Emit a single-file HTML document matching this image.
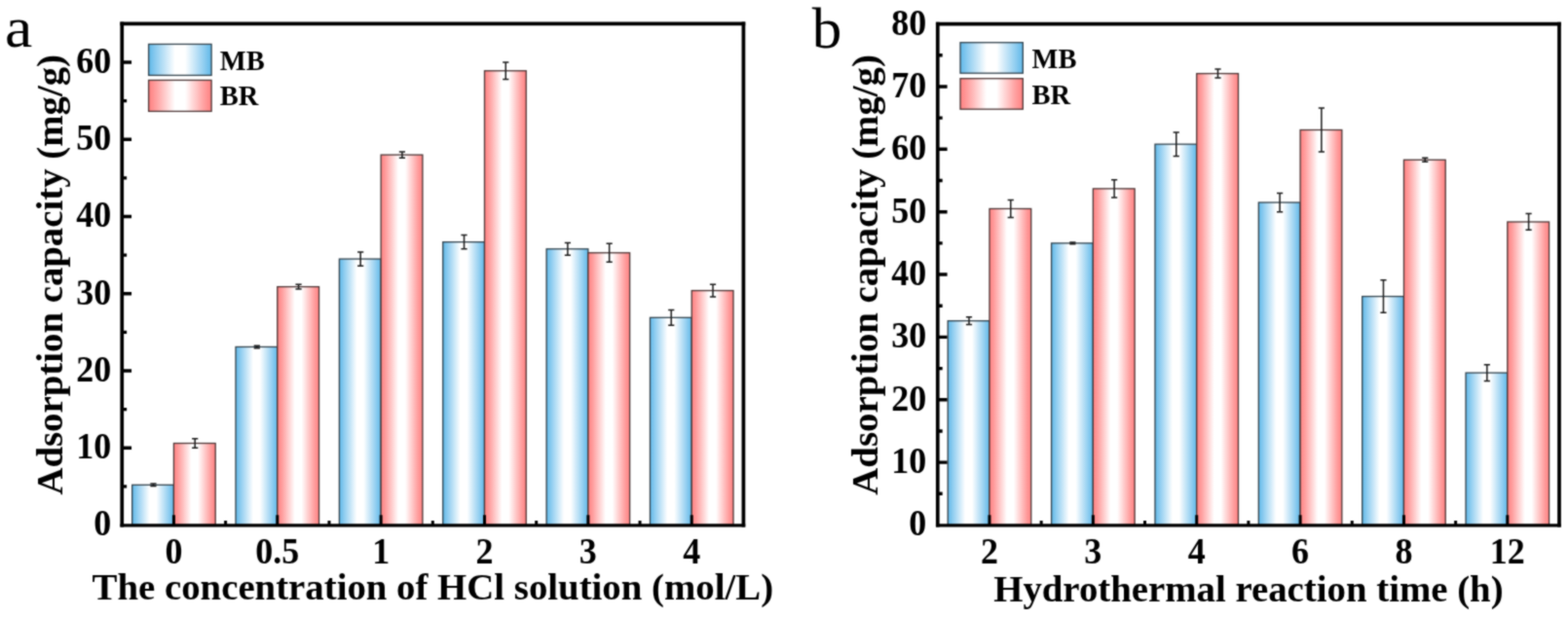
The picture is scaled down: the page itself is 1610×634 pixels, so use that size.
<!DOCTYPE html>
<html lang="en"><head><meta charset="utf-8"><title>Adsorption capacity</title>
<style>
html,body{margin:0;padding:0;background:#fff;}
body{width:1610px;height:634px;overflow:hidden;}
svg{display:block;}
text{font-family:"Liberation Serif", "Times New Roman", serif;fill:#000;}
.t{font-weight:bold;font-size:36.0px;}
.a{font-weight:bold;font-size:38.8px;}
.l{font-weight:bold;font-size:28.5px;}
.p{font-weight:normal;}
</style></head>
<body>
<svg width="1610" height="634" viewBox="0 0 1610 634">
<defs>
<linearGradient id="gb" x1="0" y1="0" x2="1" y2="0">
<stop offset="0" stop-color="#5fb8e8"/><stop offset="0.12" stop-color="#8fcdf0"/><stop offset="0.42" stop-color="#ffffff"/><stop offset="0.58" stop-color="#ffffff"/><stop offset="0.88" stop-color="#8fcdf0"/><stop offset="1" stop-color="#5fb8e8"/>
</linearGradient>
<linearGradient id="gr" x1="0" y1="0" x2="1" y2="0">
<stop offset="0" stop-color="#ff8080"/><stop offset="0.12" stop-color="#ffa0a0"/><stop offset="0.42" stop-color="#ffffff"/><stop offset="0.58" stop-color="#ffffff"/><stop offset="0.88" stop-color="#ffa0a0"/><stop offset="1" stop-color="#ff8080"/>
</linearGradient>
<filter id="soft" x="0" y="0" width="1610" height="634" filterUnits="userSpaceOnUse" color-interpolation-filters="sRGB">
<feConvolveMatrix order="3" kernelMatrix="1 2 1 2 8 2 1 2 1" edgeMode="duplicate" preserveAlpha="true"/>
</filter>
</defs>
<g filter="url(#soft)">
<rect width="1610" height="634" fill="#fff"/>
<rect x="135.67" y="498.29" width="42.76" height="41.21" fill="url(#gb)" stroke="#34444e" stroke-width="1.3"/>
<rect x="178.43" y="455.50" width="42.76" height="84.00" fill="url(#gr)" stroke="#4e3838" stroke-width="1.3"/>
<rect x="242.03" y="356.44" width="42.76" height="183.06" fill="url(#gb)" stroke="#34444e" stroke-width="1.3"/>
<rect x="284.79" y="294.63" width="42.76" height="244.87" fill="url(#gr)" stroke="#4e3838" stroke-width="1.3"/>
<rect x="348.39" y="266.10" width="42.76" height="273.40" fill="url(#gb)" stroke="#34444e" stroke-width="1.3"/>
<rect x="391.15" y="159.12" width="42.76" height="380.38" fill="url(#gr)" stroke="#4e3838" stroke-width="1.3"/>
<rect x="454.75" y="248.67" width="42.76" height="290.83" fill="url(#gb)" stroke="#34444e" stroke-width="1.3"/>
<rect x="497.50" y="72.74" width="42.76" height="466.76" fill="url(#gr)" stroke="#4e3838" stroke-width="1.3"/>
<rect x="561.11" y="255.80" width="42.76" height="283.70" fill="url(#gb)" stroke="#34444e" stroke-width="1.3"/>
<rect x="603.86" y="259.76" width="42.76" height="279.74" fill="url(#gr)" stroke="#4e3838" stroke-width="1.3"/>
<rect x="667.46" y="326.33" width="42.76" height="213.17" fill="url(#gb)" stroke="#34444e" stroke-width="1.3"/>
<rect x="710.22" y="298.59" width="42.76" height="240.91" fill="url(#gr)" stroke="#4e3838" stroke-width="1.3"/>
<path d="M157.45 497.10V499.48M154.35 497.10H160.55M154.35 499.48H160.55" stroke="#1c1c1c" stroke-width="1.5" fill="none"/>
<path d="M200.21 450.74V460.25M197.11 450.74H203.31M197.11 460.25H203.31" stroke="#1c1c1c" stroke-width="1.5" fill="none"/>
<path d="M263.81 355.25V357.63M260.71 355.25H266.91M260.71 357.63H266.91" stroke="#1c1c1c" stroke-width="1.5" fill="none"/>
<path d="M306.57 292.25V297.01M303.47 292.25H309.67M303.47 297.01H309.67" stroke="#1c1c1c" stroke-width="1.5" fill="none"/>
<path d="M370.17 258.97V273.23M367.07 258.97H373.27M367.07 273.23H373.27" stroke="#1c1c1c" stroke-width="1.5" fill="none"/>
<path d="M412.92 155.95V162.29M409.82 155.95H416.02M409.82 162.29H416.02" stroke="#1c1c1c" stroke-width="1.5" fill="none"/>
<path d="M476.53 241.53V255.80M473.43 241.53H479.63M473.43 255.80H479.63" stroke="#1c1c1c" stroke-width="1.5" fill="none"/>
<path d="M519.28 64.02V81.46M516.18 64.02H522.38M516.18 81.46H522.38" stroke="#1c1c1c" stroke-width="1.5" fill="none"/>
<path d="M582.88 249.46V262.14M579.78 249.46H585.98M579.78 262.14H585.98" stroke="#1c1c1c" stroke-width="1.5" fill="none"/>
<path d="M625.64 250.25V269.27M622.54 250.25H628.74M622.54 269.27H628.74" stroke="#1c1c1c" stroke-width="1.5" fill="none"/>
<path d="M689.24 318.40V334.25M686.14 318.40H692.34M686.14 334.25H692.34" stroke="#1c1c1c" stroke-width="1.5" fill="none"/>
<path d="M732.00 292.25V304.93M728.90 292.25H735.10M728.90 304.93H735.10" stroke="#1c1c1c" stroke-width="1.5" fill="none"/>
<path d="M125.25 499.88h4.9M125.25 460.25h9.8M125.25 420.63h4.9M125.25 381.01h9.8M125.25 341.38h4.9M125.25 301.76h9.8M125.25 262.14h4.9M125.25 222.52h9.8M125.25 182.89h4.9M125.25 143.27h9.8M125.25 103.65h4.9M125.25 64.02h9.8" stroke="#000" stroke-width="3.4" fill="none"/>
<path d="M178.43 539.50v-10.3M231.61 539.50v-4.5M284.79 539.50v-10.3M337.97 539.50v-4.5M391.15 539.50v-10.3M444.32 539.50v-4.5M497.50 539.50v-10.3M550.68 539.50v-4.5M603.86 539.50v-10.3M657.04 539.50v-4.5M710.22 539.50v-10.3" stroke="#000" stroke-width="3.0" fill="none"/>
<path d="M123.40 24.40H765.25" stroke="#000" stroke-width="3.8" fill="none"/>
<path d="M763.40 22.50V541.50" stroke="#000" stroke-width="3.7" fill="none"/>
<path d="M123.40 539.90H765.25" stroke="#000" stroke-width="3.2" fill="none"/>
<path d="M125.25 22.50V541.50" stroke="#000" stroke-width="3.7" fill="none"/>
<text transform="translate(114.35 550.40) scale(1 1.035)" text-anchor="end" class="t">0</text>
<text transform="translate(114.35 471.15) scale(1 1.035)" text-anchor="end" class="t">10</text>
<text transform="translate(114.35 391.91) scale(1 1.035)" text-anchor="end" class="t">20</text>
<text transform="translate(114.35 312.66) scale(1 1.035)" text-anchor="end" class="t">30</text>
<text transform="translate(114.35 233.42) scale(1 1.035)" text-anchor="end" class="t">40</text>
<text transform="translate(114.35 154.17) scale(1 1.035)" text-anchor="end" class="t">50</text>
<text transform="translate(114.35 74.92) scale(1 1.035)" text-anchor="end" class="t">60</text>
<text transform="translate(178.43 579.1) scale(1 1.035)" text-anchor="middle" class="t">0</text>
<text transform="translate(284.79 579.1) scale(1 1.035)" text-anchor="middle" class="t">0.5</text>
<text transform="translate(391.15 579.1) scale(1 1.035)" text-anchor="middle" class="t">1</text>
<text transform="translate(497.50 579.1) scale(1 1.035)" text-anchor="middle" class="t">2</text>
<text transform="translate(603.86 579.1) scale(1 1.035)" text-anchor="middle" class="t">3</text>
<text transform="translate(710.22 579.1) scale(1 1.035)" text-anchor="middle" class="t">4</text>
<text x="444.3" y="616.0" text-anchor="middle" class="a" textLength="699.5" lengthAdjust="spacing">The concentration of HCl solution (mol/L)</text>
<text transform="translate(64 282.3) rotate(-90)" text-anchor="middle" class="a" textLength="452.6" lengthAdjust="spacing">Adsorption capacity (mg/g)</text>
<rect x="152.6" y="45.4" width="64.5" height="32" fill="url(#gb)" stroke="#34444e" stroke-width="1.3"/>
<text transform="translate(225.8 71.5) scale(1 1.06)" class="l">MB</text>
<rect x="152.6" y="82.4" width="64.5" height="32" fill="url(#gr)" stroke="#4e3838" stroke-width="1.3"/>
<text transform="translate(225.8 108.3) scale(1 1.06)" class="l">BR</text>
<text transform="translate(4.9 48.2) scale(1.07 1)" class="p" style="font-size:59.5px">a</text>
<rect x="973.22" y="329.68" width="42.76" height="209.82" fill="url(#gb)" stroke="#34444e" stroke-width="1.3"/>
<rect x="1015.98" y="214.47" width="42.76" height="325.03" fill="url(#gr)" stroke="#4e3838" stroke-width="1.3"/>
<rect x="1079.59" y="249.87" width="42.76" height="289.63" fill="url(#gb)" stroke="#34444e" stroke-width="1.3"/>
<rect x="1122.35" y="193.87" width="42.76" height="345.63" fill="url(#gr)" stroke="#4e3838" stroke-width="1.3"/>
<rect x="1185.96" y="148.18" width="42.76" height="391.32" fill="url(#gb)" stroke="#34444e" stroke-width="1.3"/>
<rect x="1228.72" y="75.58" width="42.76" height="463.92" fill="url(#gr)" stroke="#4e3838" stroke-width="1.3"/>
<rect x="1292.32" y="208.03" width="42.76" height="331.47" fill="url(#gb)" stroke="#34444e" stroke-width="1.3"/>
<rect x="1335.08" y="133.50" width="42.76" height="406.00" fill="url(#gr)" stroke="#4e3838" stroke-width="1.3"/>
<rect x="1398.69" y="304.58" width="42.76" height="234.92" fill="url(#gb)" stroke="#34444e" stroke-width="1.3"/>
<rect x="1441.45" y="164.27" width="42.76" height="375.23" fill="url(#gr)" stroke="#4e3838" stroke-width="1.3"/>
<rect x="1505.06" y="383.10" width="42.76" height="156.40" fill="url(#gb)" stroke="#34444e" stroke-width="1.3"/>
<rect x="1547.82" y="227.99" width="42.76" height="311.51" fill="url(#gr)" stroke="#4e3838" stroke-width="1.3"/>
<path d="M995.00 325.82V333.54M991.90 325.82H998.10M991.90 333.54H998.10" stroke="#1c1c1c" stroke-width="1.5" fill="none"/>
<path d="M1037.76 205.46V223.48M1034.66 205.46H1040.86M1034.66 223.48H1040.86" stroke="#1c1c1c" stroke-width="1.5" fill="none"/>
<path d="M1101.37 249.10V250.64M1098.27 249.10H1104.47M1098.27 250.64H1104.47" stroke="#1c1c1c" stroke-width="1.5" fill="none"/>
<path d="M1144.13 184.86V202.88M1141.03 184.86H1147.23M1141.03 202.88H1147.23" stroke="#1c1c1c" stroke-width="1.5" fill="none"/>
<path d="M1207.74 135.95V160.40M1204.64 135.95H1210.84M1204.64 160.40H1210.84" stroke="#1c1c1c" stroke-width="1.5" fill="none"/>
<path d="M1250.50 71.07V80.08M1247.40 71.07H1253.60M1247.40 80.08H1253.60" stroke="#1c1c1c" stroke-width="1.5" fill="none"/>
<path d="M1314.10 198.38V217.69M1311.00 198.38H1317.20M1311.00 217.69H1317.20" stroke="#1c1c1c" stroke-width="1.5" fill="none"/>
<path d="M1356.86 110.97V156.03M1353.76 110.97H1359.96M1353.76 156.03H1359.96" stroke="#1c1c1c" stroke-width="1.5" fill="none"/>
<path d="M1420.47 287.84V321.31M1417.37 287.84H1423.57M1417.37 321.31H1423.57" stroke="#1c1c1c" stroke-width="1.5" fill="none"/>
<path d="M1463.23 162.34V166.20M1460.13 162.34H1466.33M1460.13 166.20H1466.33" stroke="#1c1c1c" stroke-width="1.5" fill="none"/>
<path d="M1526.84 374.73V391.47M1523.74 374.73H1529.94M1523.74 391.47H1529.94" stroke="#1c1c1c" stroke-width="1.5" fill="none"/>
<path d="M1569.60 219.62V236.35M1566.50 219.62H1572.70M1566.50 236.35H1572.70" stroke="#1c1c1c" stroke-width="1.5" fill="none"/>
<path d="M962.80 507.32h4.9M962.80 475.14h9.8M962.80 442.96h4.9M962.80 410.77h9.8M962.80 378.59h4.9M962.80 346.41h9.8M962.80 314.23h4.9M962.80 282.05h9.8M962.80 249.87h4.9M962.80 217.69h9.8M962.80 185.51h4.9M962.80 153.32h9.8M962.80 121.14h4.9M962.80 88.96h9.8M962.80 56.78h4.9" stroke="#000" stroke-width="3.4" fill="none"/>
<path d="M1015.98 539.50v-10.3M1069.17 539.50v-4.5M1122.35 539.50v-10.3M1175.53 539.50v-4.5M1228.72 539.50v-10.3M1281.90 539.50v-4.5M1335.08 539.50v-10.3M1388.27 539.50v-4.5M1441.45 539.50v-10.3M1494.63 539.50v-4.5M1547.82 539.50v-10.3" stroke="#000" stroke-width="3.0" fill="none"/>
<path d="M960.95 24.60H1602.85" stroke="#000" stroke-width="3.8" fill="none"/>
<path d="M1601.00 22.70V541.50" stroke="#000" stroke-width="3.7" fill="none"/>
<path d="M960.95 539.90H1602.85" stroke="#000" stroke-width="3.2" fill="none"/>
<path d="M962.80 22.70V541.50" stroke="#000" stroke-width="3.7" fill="none"/>
<text transform="translate(951.30 550.40) scale(1 1.035)" text-anchor="end" class="t">0</text>
<text transform="translate(951.30 486.04) scale(1 1.035)" text-anchor="end" class="t">10</text>
<text transform="translate(951.30 421.67) scale(1 1.035)" text-anchor="end" class="t">20</text>
<text transform="translate(951.30 357.31) scale(1 1.035)" text-anchor="end" class="t">30</text>
<text transform="translate(951.30 292.95) scale(1 1.035)" text-anchor="end" class="t">40</text>
<text transform="translate(951.30 228.59) scale(1 1.035)" text-anchor="end" class="t">50</text>
<text transform="translate(951.30 164.22) scale(1 1.035)" text-anchor="end" class="t">60</text>
<text transform="translate(951.30 99.86) scale(1 1.035)" text-anchor="end" class="t">70</text>
<text transform="translate(951.30 35.50) scale(1 1.035)" text-anchor="end" class="t">80</text>
<text transform="translate(1015.98 579.1) scale(1 1.035)" text-anchor="middle" class="t">2</text>
<text transform="translate(1122.35 579.1) scale(1 1.035)" text-anchor="middle" class="t">3</text>
<text transform="translate(1228.72 579.1) scale(1 1.035)" text-anchor="middle" class="t">4</text>
<text transform="translate(1335.08 579.1) scale(1 1.035)" text-anchor="middle" class="t">6</text>
<text transform="translate(1441.45 579.1) scale(1 1.035)" text-anchor="middle" class="t">8</text>
<text transform="translate(1547.82 579.1) scale(1 1.035)" text-anchor="middle" class="t">12</text>
<text x="1281.9" y="618.1" text-anchor="middle" class="a" textLength="523.4" lengthAdjust="spacing">Hydrothermal reaction time (h)</text>
<text transform="translate(901.3 282.4) rotate(-90)" text-anchor="middle" class="a" textLength="452.6" lengthAdjust="spacing">Adsorption capacity (mg/g)</text>
<rect x="986" y="43.7" width="64.3" height="31.5" fill="url(#gb)" stroke="#34444e" stroke-width="1.3"/>
<text transform="translate(1059.5 70.3) scale(1 1.06)" class="l">MB</text>
<rect x="986" y="80.7" width="64.3" height="31.5" fill="url(#gr)" stroke="#4e3838" stroke-width="1.3"/>
<text transform="translate(1059.5 106.6) scale(1 1.06)" class="l">BR</text>
<text transform="translate(833.7 48.8) scale(1.03 1)" class="p" style="font-size:59.3px">b</text>
</g>
</svg>
</body></html>
